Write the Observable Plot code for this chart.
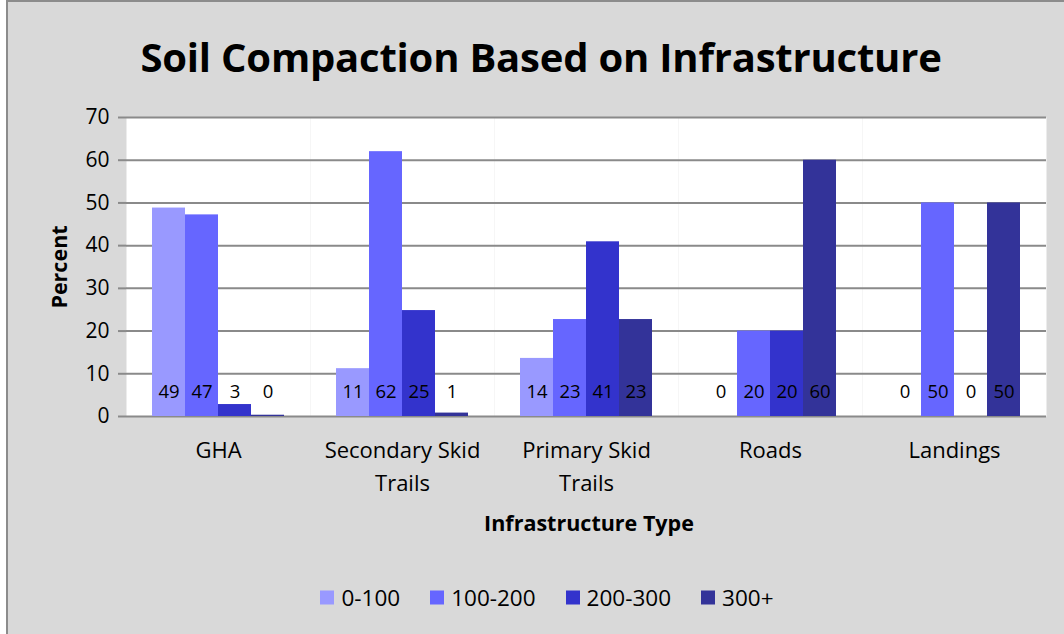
<!DOCTYPE html>
<html><head><meta charset="utf-8">
<script src="https://cdn.jsdelivr.net/npm/d3@7"></script>
<script src="https://cdn.jsdelivr.net/npm/@observablehq/plot@0.6"></script>
<style>
body{margin:0;background:#fff;font-family:"Open Sans",sans-serif;}
#wrap{position:relative;width:1064px;height:634px;overflow:hidden;}
#bg{position:absolute;left:6px;top:0;width:1080px;height:660px;background:#d9d9d9;border:2px solid #8c8c8c;box-sizing:border-box;}
#chart{position:absolute;left:0;top:0;}
.lbl{position:absolute;transform:translate(-50%,-50%);white-space:nowrap;color:#000;}
#title{left:541px;top:56px;font-size:40px;font-weight:bold;letter-spacing:-0.2px;}
#ytitle{left:58px;top:267px;font-size:21.5px;font-weight:bold;transform:translate(-50%,-50%) rotate(-90deg);}
#xtitle{left:589px;top:522px;font-size:21.5px;font-weight:bold;}
#legend{position:absolute;left:15px;top:597px;width:1064px;display:flex;justify-content:center;transform:translate(0,-50%);font-size:22.5px;}
.item{display:flex;align-items:center;margin:0 15px;}
.sw{width:14px;height:14px;margin-right:7px;}
</style></head>
<body>
<div id="wrap">
  <div id="bg"></div>
  <div id="chart"></div>
  <div class="lbl" id="title">Soil Compaction Based on Infrastructure</div>
  <div class="lbl" id="ytitle">Percent</div>
  <div class="lbl" id="xtitle">Infrastructure Type</div>
  <div id="legend"></div>
</div>
<script>
const categories = ["GHA", "Secondary Skid Trails", "Primary Skid Trails", "Roads", "Landings"];
const categoryTickLabels = ["GHA", "Secondary Skid\nTrails", "Primary Skid\nTrails", "Roads", "Landings"];
const series = ["0-100", "100-200", "200-300", "300+"];
const values0to100   = [48.8, 11.2, 13.6, 0, 0];
const values100to200 = [47.2, 62.0, 22.7, 20, 50];
const values200to300 = [2.8, 24.8, 40.9, 20, 0];
const values300plus  = [0.3, 0.8, 22.7, 60, 50];
const yTicks = [0, 10, 20, 30, 40, 50, 60, 70];
const colors = ["#9999ff", "#6666ff", "#3333cc", "#333399"];

const seriesValues = [values0to100, values100to200, values200to300, values300plus];
const data = [];
categories.forEach((c, i) => series.forEach((s, j) => data.push({category: c, series: s, value: seriesValues[j][i]})));

const chart = Plot.plot({
  width: 1064, height: 634,
  marginTop: 117, marginBottom: 218, marginLeft: 124, marginRight: 16,
  style: {background: "transparent", fontFamily: "'Open Sans', sans-serif", fontSize: "20px", color: "#000"},
  fx: {domain: categories, padding: 0, label: null},
  x: {domain: series, paddingInner: 0, paddingOuter: 0.75, axis: null},
  y: {domain: [0, 70], label: null},
  color: {domain: series, range: colors},
  marks: [
    Plot.frame({fill: "white", stroke: null}),
    Plot.gridY(yTicks, {stroke: "#8a8a8a", strokeOpacity: 1, strokeWidth: 2}),
    Plot.barY(data, {fx: "category", x: "series", y: "value", fill: "series"}),
    Plot.text(data, {fx: "category", x: "series", y: () => 0, text: d => String(Math.round(d.value)), dy: -24, fontSize: 18.5, fill: "#000"}),
    Plot.axisY(yTicks, {tickSize: 8, tickPadding: 9, stroke: "#8a8a8a", strokeWidth: 2, fill: "#000", fontSize: 21, label: null, line: true}),
    Plot.axisFx({anchor: "bottom", tickSize: 0, tickPadding: 18, fontSize: 22, lineHeight: 1.5, label: null,
      tickFormat: c => categoryTickLabels[categories.indexOf(c)]})
  ]
});
document.getElementById("chart").appendChild(chart);

const legend = document.getElementById("legend");
series.forEach((s, j) => {
  const it = document.createElement("div"); it.className = "item";
  const sw = document.createElement("div"); sw.className = "sw"; sw.style.background = colors[j];
  const tx = document.createElement("span"); tx.textContent = s;
  it.appendChild(sw); it.appendChild(tx); legend.appendChild(it);
});
</script>
</body></html>
